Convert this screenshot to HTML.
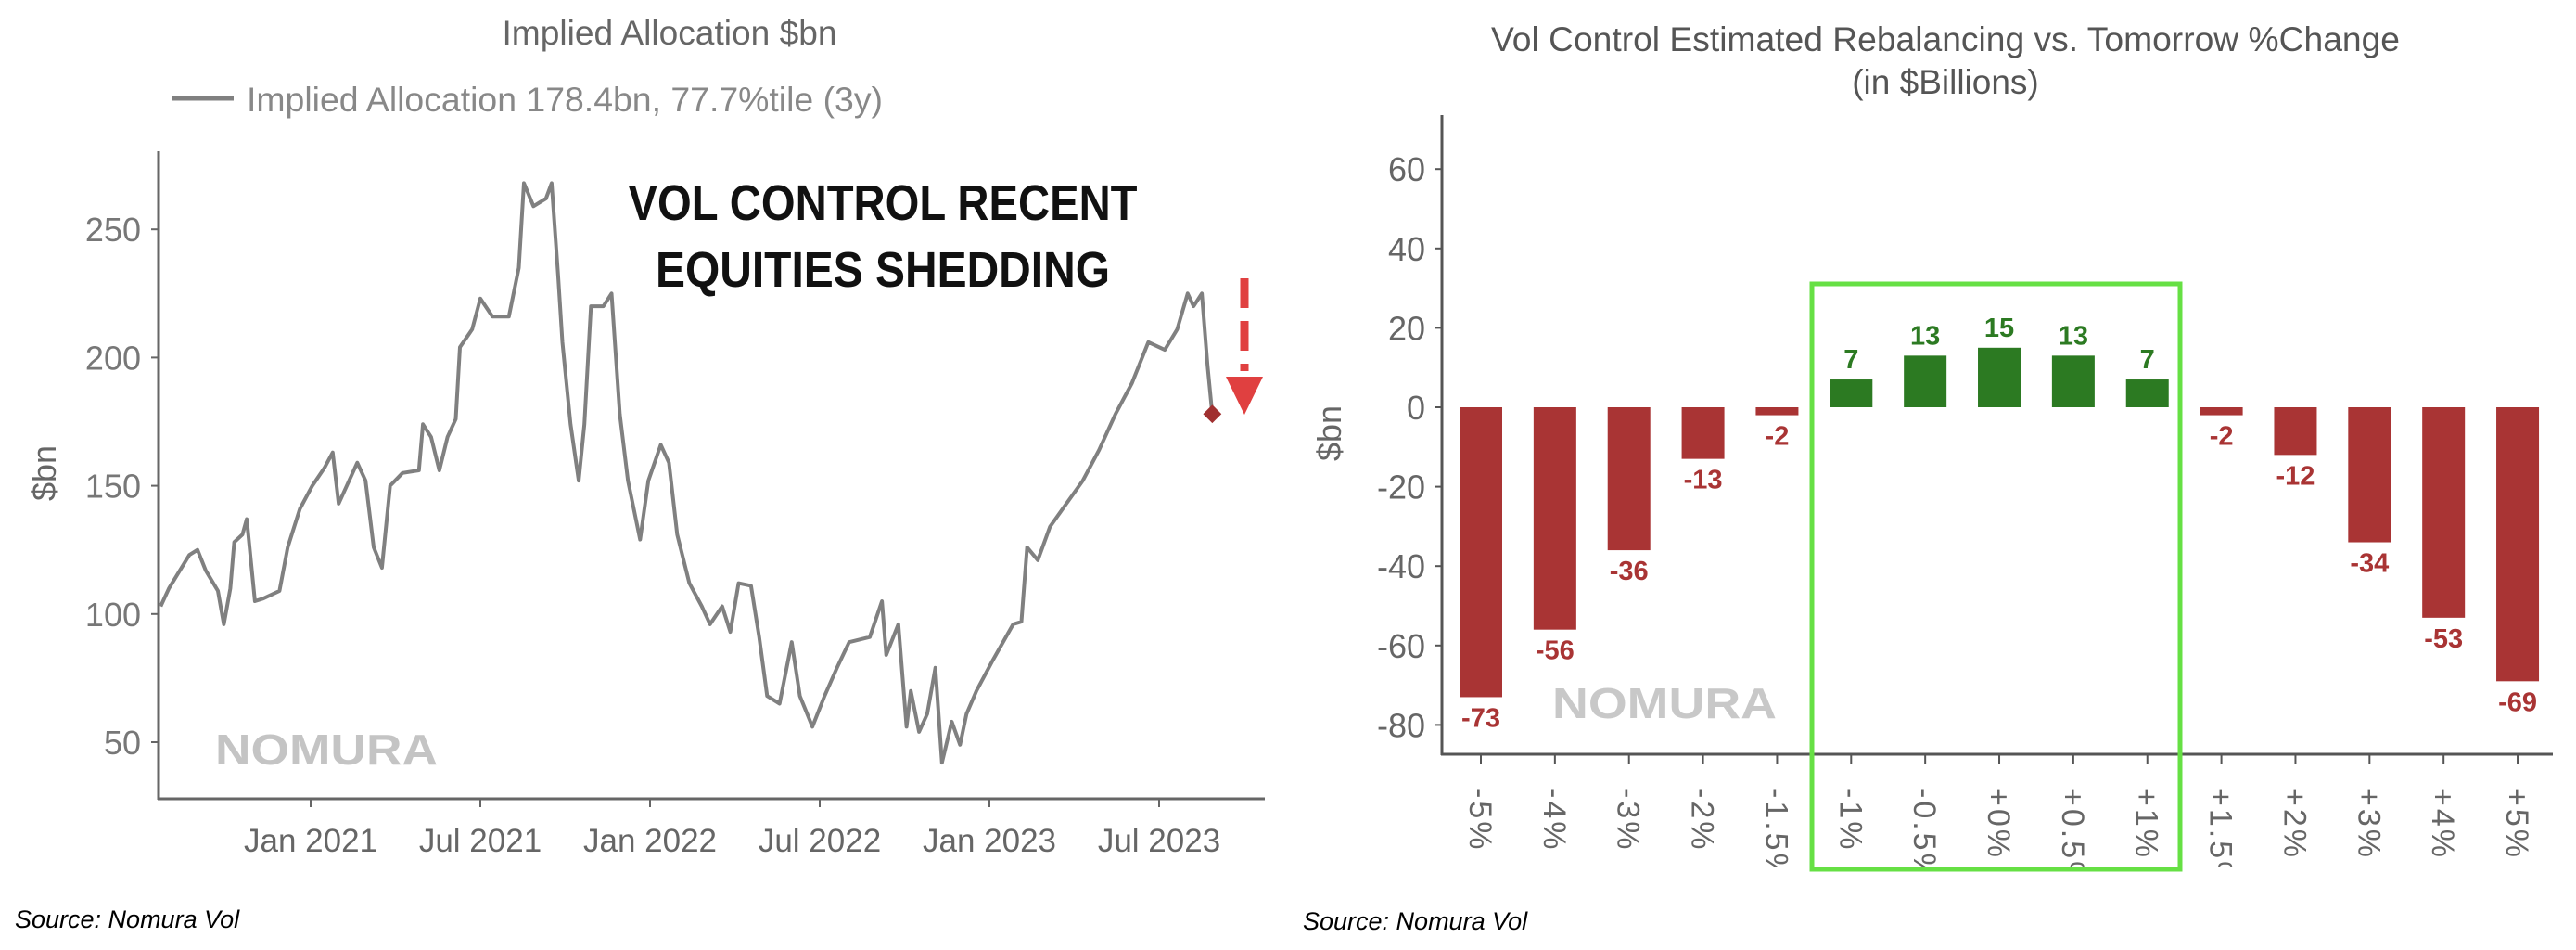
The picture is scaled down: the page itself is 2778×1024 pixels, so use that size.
<!DOCTYPE html>
<html><head><meta charset="utf-8"><style>
html,body{margin:0;padding:0;background:#fff;}
svg{display:block;}
text{font-family:"Liberation Sans",sans-serif;}
</style></head><body>
<svg id="s" width="2778" height="1024" viewBox="0 0 2778 1024" xmlns="http://www.w3.org/2000/svg">
<defs><clipPath id="xclip"><rect x="1389" y="815" width="1389" height="119"/></clipPath></defs>
<g id="left">
<text x="722" y="48" text-anchor="middle" font-size="37" fill="#666" textLength="361" lengthAdjust="spacingAndGlyphs">Implied Allocation $bn</text>
<line x1="186" y1="106" x2="252" y2="106" stroke="#808080" stroke-width="5"/>
<text x="266" y="120" font-size="37" fill="#888" textLength="686" lengthAdjust="spacingAndGlyphs">Implied Allocation 178.4bn, 77.7%tile (3y)</text>
<text transform="translate(60,510) rotate(-90)" text-anchor="middle" font-size="36" fill="#666">$bn</text>
<text x="232" y="824" font-size="46" font-weight="bold" fill="#c4c4c4" textLength="240" lengthAdjust="spacingAndGlyphs">NOMURA</text>
<text x="952" y="237" text-anchor="middle" font-size="54" font-weight="bold" fill="#111" textLength="549" lengthAdjust="spacingAndGlyphs">VOL CONTROL RECENT</text>
<text x="952" y="309" text-anchor="middle" font-size="54" font-weight="bold" fill="#111" textLength="490" lengthAdjust="spacingAndGlyphs">EQUITIES SHEDDING</text>
<line x1="1342" y1="300" x2="1342" y2="400" stroke="#e04040" stroke-width="9" stroke-dasharray="32,14"/>
<polygon points="1322,406 1362,406 1342,447" fill="#e04040"/>
</g>
<g id="right">
<text x="2098" y="55" text-anchor="middle" font-size="37" fill="#555" textLength="980" lengthAdjust="spacingAndGlyphs">Vol Control Estimated Rebalancing vs. Tomorrow %Change</text>
<text x="2098" y="101" text-anchor="middle" font-size="37" fill="#555">(in $Billions)</text>
<text transform="translate(1446,467) rotate(-90)" text-anchor="middle" font-size="36" fill="#666">$bn</text>
<text x="1674" y="774" font-size="46" font-weight="bold" fill="#c8c8c8" textLength="242" lengthAdjust="spacingAndGlyphs">NOMURA</text>
</g>
<text x="16" y="1000" font-size="27" font-style="italic" fill="#000">Source: Nomura Vol</text>
<text x="1405" y="1002" font-size="27" font-style="italic" fill="#000">Source: Nomura Vol</text>
</svg>
<script>
const NS="http://www.w3.org/2000/svg";
// Left chart data: months since Jan 2021, value in $bn
const lineMonths=[-5.30,-5.01,-4.29,-4.00,-3.71,-3.28,-3.07,-2.84,-2.70,-2.41,-2.26,-1.97,-1.68,-1.10,-0.81,-0.38,0.06,0.49,0.78,0.99,1.36,1.65,1.94,2.23,2.52,2.81,3.25,3.83,3.97,4.26,4.55,4.84,5.13,5.28,5.71,6.00,6.43,7.01,7.36,7.54,7.88,8.32,8.52,8.75,8.90,9.19,9.48,9.68,9.91,10.35,10.64,10.93,11.22,11.65,11.94,12.38,12.67,12.96,13.39,13.83,14.12,14.55,14.84,15.13,15.57,15.86,16.14,16.58,17.01,17.30,17.74,18.17,18.61,19.04,19.77,20.20,20.35,20.78,21.07,21.22,21.51,21.80,22.09,22.32,22.67,22.96,23.19,23.54,24.12,24.84,25.13,25.33,25.71,26.14,26.72,27.30,27.88,28.46,29.04,29.62,30.20,30.64,31.01,31.22,31.51,31.71,31.88];
const lineValues=[103,110,123,125,117,109,96,110,128,131,137,105,106,109,126,141,150,157,163,143,152,159,152,126,118,150,155,156,174,169,156,169,176,204,211,223,216,216,235,268,259,262,268,232,206,174,152,174,220,220,225,178,152,129,152,166,159,131,112,103,96,103,93,112,111,91,68,65,89,68,56,68,79,89,91,105,84,96,56,70,54,61,79,42,58,49,61,70,82,96,97,126,121,134,143,152,164,178,190,206,203,211,225,220,225,197,178];
const leftYTicks=[50,100,150,200,250];
const leftXTicks=[0,6,12,18,24,30];
const leftXLabels=["Jan 2021","Jul 2021","Jan 2022","Jul 2022","Jan 2023","Jul 2023"];
// Right chart data
const barCats=["-5%","-4%","-3%","-2%","-1.5%","-1%","-0.5%","+0%","+0.5%","+1%","+1.5%","+2%","+3%","+4%","+5%"];
const barValues=[-73,-56,-36,-13,-2,7,13,15,13,7,-2,-12,-34,-53,-69];
const rightYTicks=[-80,-60,-40,-20,0,20,40,60];

const L=document.getElementById('left'), R=document.getElementById('right');
function mk(tag,attrs,parent,txt){const e=document.createElementNS(NS,tag);for(const k in attrs)e.setAttribute(k,attrs[k]);if(txt!==undefined)e.textContent=txt;parent.appendChild(e);return e;}

const lx=m=>335+m*30.5;
const ly=v=>800-(v-50)*2.764;
let e=mk('line',{x1:171,y1:163,x2:171,y2:862,stroke:'#666','stroke-width':3},L);


e=mk('line',{x1:170,y1:861,x2:1364,y2:861,stroke:'#666','stroke-width':3},L);


leftYTicks.forEach(v=>{
 mk('line',{x1:163,y1:ly(v),x2:171,y2:ly(v),stroke:'#666','stroke-width':2},L);
 const t=mk('text',{x:152,y:ly(v)+13,'text-anchor':'end','font-size':36,fill:'#777'},L,String(v));
 
 
});
leftXTicks.forEach((m,i)=>{
 mk('line',{x1:lx(m),y1:861,x2:lx(m),y2:870,stroke:'#666','stroke-width':2},L);
 const t=mk('text',{x:lx(m),y:918,'text-anchor':'middle','font-size':35,fill:'#666'},L,leftXLabels[i]);
 
 
});
const pts=lineMonths.map((m,i)=>lx(m).toFixed(1)+','+ly(lineValues[i]).toFixed(1)).join(' ');
e=mk('polyline',{points:pts,fill:'none',stroke:'#808080','stroke-width':4,'stroke-linejoin':'round'},L);


const lm=lineMonths[lineMonths.length-1], lv=lineValues[lineValues.length-1];
e=mk('rect',{x:lx(lm)-7,y:ly(lv)-7,width:14,height:14,fill:'#a03030',transform:`rotate(45 ${lx(lm)} ${ly(lv)})`},L);



const bx=i=>1597+i*79.86;
const by=v=>439-v*4.28;
e=mk('line',{x1:1555,y1:124,x2:1555,y2:814,stroke:'#555','stroke-width':3},R);


e=mk('line',{x1:1554,y1:813,x2:2753,y2:813,stroke:'#555','stroke-width':3},R);


rightYTicks.forEach(v=>{
 mk('line',{x1:1547,y1:by(v),x2:1555,y2:by(v),stroke:'#555','stroke-width':2},R);
 const t=mk('text',{x:1537,y:by(v)+13,'text-anchor':'end','font-size':36,fill:'#666'},R,String(v));
 
 
});
const xg=mk('g',{'clip-path':'url(#xclip)'},R);
barCats.forEach((c,i)=>{
 const v=barValues[i], pos=v>=0, col=pos?'#2c7a22':'#a93434';
 const y0=by(Math.max(v,0)), h=Math.abs(by(v)-by(0));
 const b=mk('rect',{x:bx(i)-23,y:y0,width:46,height:Math.max(h,2),fill:col},R);
 
 
 const ty=pos?by(v)-12:by(v)+32;
 const t=mk('text',{x:bx(i),y:ty,'text-anchor':'middle','font-size':29,'font-weight':'bold',fill:col},R,String(v));
 
 
 mk('line',{x1:bx(i),y1:813,x2:bx(i),y2:823,stroke:'#555','stroke-width':2},R);
 const xl=mk('text',{transform:`translate(${bx(i)-12},849) rotate(90)`,'font-size':34,fill:'#666','letter-spacing':3},xg,c);
 
 
});
e=mk('rect',{x:1954,y:306,width:397,height:631,fill:'none',stroke:'#66e044','stroke-width':5},R);


</script>
</body></html>
